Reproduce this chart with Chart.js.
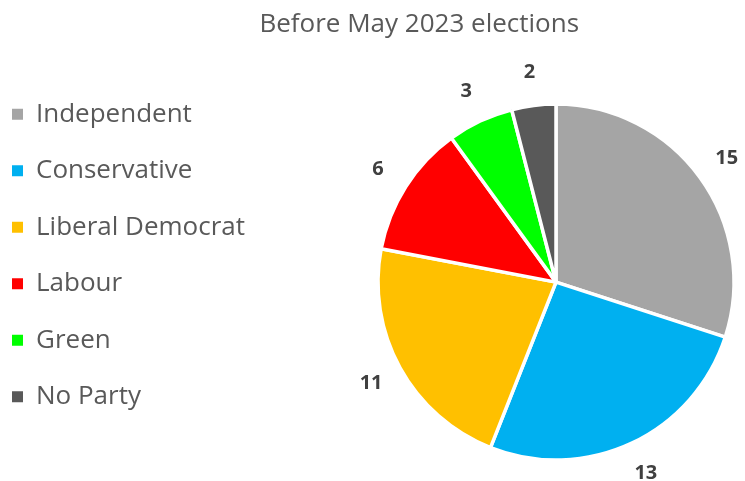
<!DOCTYPE html>
<html>
<head>
<meta charset="utf-8">
<script src="https://cdn.jsdelivr.net/npm/chart.js@4"></script>
<style>
    html, body { margin: 0; background: #ffffff; overflow: hidden; }
    #wrap { width: 745px; height: 481px; overflow: hidden; }
</style>
</head>
<body>
<div id="wrap"><canvas id="partyChart" width="857" height="511"></canvas></div>
<script>
const parties = ['Independent', 'Conservative', 'Liberal Democrat', 'Labour', 'Green', 'No Party'];
const seats = [15, 13, 11, 6, 3, 2];
const partyColours = ['#A5A5A5', '#00B0F0', '#FFC000', '#FF0000', '#00FF00', '#595959'];
const chartTitle = 'Before May 2023 elections';

// labels sitting just outside each slice
const outsideLabels = {
    id: 'outsideLabels',
    afterDatasetsDraw(chart) {
        const ctx = chart.ctx;
        const meta = chart.getDatasetMeta(0);
        ctx.save();
        ctx.font = 'bold 20px "Open Sans"';
        ctx.fillStyle = '#404040';
        ctx.textAlign = 'center';
        ctx.textBaseline = 'middle';
        meta.data.forEach((arc, i) => {
            const p = arc.getProps(['x', 'y', 'startAngle', 'endAngle', 'outerRadius'], true);
            const mid = (p.startAngle + p.endAngle) / 2;
            const d = p.outerRadius + 33;
            ctx.fillText(String(chart.data.datasets[0].data[i]), p.x + Math.cos(mid) * d, p.y + Math.sin(mid) * d);
        });
        ctx.restore();
    }
};

const ctx = document.getElementById('partyChart').getContext('2d');
const partyChart = new Chart(ctx, {
    type: 'pie',
    data: {
        labels: parties,
        datasets: [{
            data: seats,
            backgroundColor: partyColours,
            borderColor: '#ffffff',
            borderWidth: 3.5,
            radius: 178
        }]
    },
    options: {
        responsive: false,
        animation: false,
        layout: {
            padding: { left: -18.5, right: 0, top: 0, bottom: 0 }
        },
        plugins: {
            title: {
                display: true,
                text: chartTitle,
                color: '#595959',
                font: { family: '"Open Sans"', size: 26, weight: 'normal' },
                padding: { top: 9, bottom: 13 }
            },
            legend: {
                position: 'left',
                align: 'center',
                labels: {
                    color: '#595959',
                    font: { family: '"Open Sans"', size: 26 },
                    boxWidth: 11,
                    boxHeight: 11,
                    padding: 30.5,
                    generateLabels: function(chart) {
                        const items = Chart.overrides.pie.plugins.legend.labels.generateLabels(chart);
                        return items.map(item => Object.assign(item, { lineWidth: 0 }));
                    }
                }
            },
            tooltip: { enabled: false }
        }
    },
    plugins: [outsideLabels]
});
</script>
</body>
</html>
